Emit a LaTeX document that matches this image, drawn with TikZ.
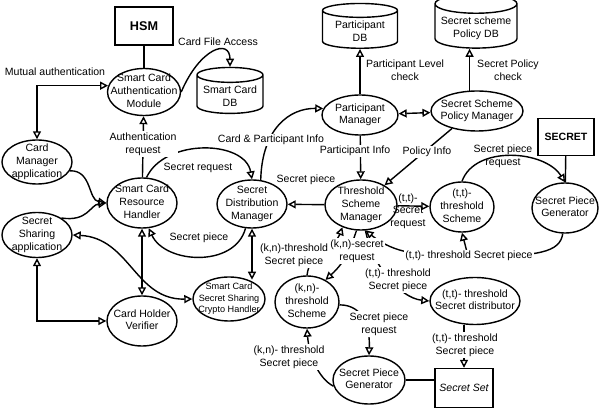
\documentclass[tikz,border=0pt]{standalone}
\usepackage{fontspec}
\setmainfont{Liberation Sans}
\usepackage{tikz}
\usetikzlibrary{arrows.meta,shapes.geometric}
\definecolor{ScanInk}{HTML}{000000}
\newcommand{\sclbl}{\fontsize{7.5}{9}\selectfont}
\newcommand{\incell}[1]{\makebox[0pt]{\raisebox{\dimexpr.5\depth-.5\height\relax}[0pt][0pt]{\begin{tabular}{@{}c@{}}#1\end{tabular}}}}
\tikzset{
  scproc/.style={ellipse, draw=ScanInk, line width=1pt, inner sep=0pt, font=\sclbl},
  scstore/.style={cylinder, shape border rotate=90, aspect=0.25, draw=ScanInk, line width=1pt, inner sep=2pt, align=center, font=\sclbl},
  scbox/.style={rectangle, draw=ScanInk, line width=1pt, inner sep=0pt},
  scnote/.style={font=\sclbl, align=center, inner sep=1pt},
  scflow/.style={-{Triangle[open,length=2mm,width=2mm]}, line width=1pt, draw=ScanInk},
  scboth/.style={{Triangle[open,length=2mm,width=2mm]}-{Triangle[open,length=2mm,width=2mm]}, line width=1pt, draw=ScanInk},
  scline/.style={line width=1pt, draw=ScanInk}
}

\begin{document}
\begin{tikzpicture}[x=0.025cm, y=-0.025cm]
  \useasboundingbox (0,0) rectangle (600,412);
  \node[scbox, minimum width=1.45cm, minimum height=0.95cm, font=\fontsize{9}{10}\selectfont\bfseries] (hsm) at (144,26) {HSM};
  \node[scproc, minimum width=1.825cm, minimum height=1.175cm] (scam) at (144,92) {\incell{Smart Card\\Authentication\\Module}};
  \node[scstore, minimum width=1.65cm, minimum height=1.05cm] (scdb) at (230,96) {Smart Card\\DB};
  \node[scproc, minimum width=1.75cm, minimum height=1.1cm] (cma) at (37,162) {\incell{Card\\Manager\\application}};
  \node[scproc, minimum width=1.75cm, minimum height=1.125cm] (ssa) at (37,235) {\incell{Secret\\Sharing\\application}};
  \node[scproc, minimum width=1.75cm, minimum height=1.25cm] (scrh) at (142,203) {\incell{Smart Card\\Resource\\Handler}};
  \node[scproc, minimum width=1.75cm, minimum height=1.25cm] (chv) at (142,321) {\incell{Card Holder\\Verifier}};
  \node[scproc, minimum width=1.75cm, minimum height=1.2cm] (sdm) at (252,204) {\incell{Secret\\Distribution\\Manager}};
  \node[scproc, minimum width=1.8cm, minimum height=1.1cm, font=\fontsize{6.5}{8}\selectfont] (scsc) at (229,299) {\incell{Smart Card\\Secret Sharing\\Crypto Handler}};
  \node[scstore, minimum width=1.875cm, minimum height=0.95cm] (pdb) at (360,31) {Participant\\DB};
  \node[scproc, minimum width=1.9cm, minimum height=1.0cm] (pm) at (360,115) {\incell{Participant\\Manager}};
  \node[scstore, minimum width=2.05cm, minimum height=1.125cm] (sspdb) at (476,28) {Secret scheme\\Policy DB};
  \node[scproc, minimum width=2.3cm, minimum height=1.0cm] (sspm) at (477,111) {\incell{Secret Scheme\\Policy Manager}};
  \node[scproc, minimum width=1.8cm, minimum height=1.25cm] (tsm) at (361,205) {\incell{Threshold\\Scheme\\Manager}};
  \node[scproc, minimum width=1.6cm, minimum height=1.25cm] (tts) at (462,207) {\incell{(t,t)-\\threshold\\Scheme}};
  \node[scbox, minimum width=1.4cm, minimum height=0.925cm, font=\fontsize{7.5}{9}\selectfont\bfseries] (secret) at (566,137) {SECRET};
  \node[scproc, minimum width=1.65cm, minimum height=1.25cm] (spgR) at (565,208) {\incell{Secret Piece\\Generator}};
  \node[scproc, minimum width=1.6cm, minimum height=1.3cm] (kns) at (307,302) {\incell{(k,n)-\\threshold\\Scheme}};
  \node[scproc, minimum width=1.8cm, minimum height=1.2cm] (spgB) at (369,380) {\incell{Secret Piece\\Generator}};
  \node[scproc, minimum width=2.25cm, minimum height=1.175cm] (ttsd) at (475,301) {\incell{(t,t)- threshold\\Secret distributor}};
  \node[scbox, minimum width=1.45cm, minimum height=0.975cm, font=\sclbl\itshape] (secset) at (464,388) {Secret Set};

  \draw[scline] (hsm) -- (scam);
  \draw[scflow] (scam.east) .. controls (200,48) and (230,38) .. (scdb.north);
  \draw[scboth] (cma.north) |- (scam.170);
  \draw[scflow] (cma.-15) .. controls (92,170) and (88,200) .. (scrh.west);
  \draw[scflow] (ssa.35) .. controls (88,222) and (90,205) .. (scrh.west);
  \draw[scboth] (ssa.east) .. controls (130,238) and (135,300) .. (scsc.west);
  \draw[scboth] (ssa.south) |- (chv.west);
  \draw[scflow] (scrh) -- (scam);
  \draw[scboth] (scrh) -- (chv);
  \draw[scflow] (scrh.80) .. controls (165,138) and (245,140) .. (sdm.north);
  \draw[scflow] (sdm.70) .. controls (262,128) and (290,108) .. (pm.170);
  \draw[scboth] (sdm.south) -- (sdm.south |- scsc.45);
  \draw[scflow] (sdm.255) .. controls (235,268) and (165,264) .. (scrh.285);
  \draw[scflow] (tsm) -- (sdm);
  \draw[scflow] (pm) -- (pdb);
  \draw[scflow] (sspm.110) -- (sspm.110 |- sspdb.south);
  \draw[scboth] (pm) -- (sspm);
  \draw[scflow] (pm) -- (tsm);
  \draw[scflow] (sspm.215) -- (tsm.40);
  \draw[scflow] (tsm) -- (tts);
  \draw[scflow] (tts.north) .. controls (475,145) and (545,150) .. (spgR.north);
  \draw[scline] (secret) -- (spgR);
  \coordinate (ttjoin) at (468,256);
  \draw[scflow] (spgR.265) .. controls (560,252) and (540,257) .. (ttjoin) .. controls (420,256) and (395,254) .. (tsm.-80);
  \draw[scflow] (ttjoin) -- (tts.south);
  \draw[scflow] (tsm.-80) .. controls (372,265) and (400,298) .. (ttsd.west);
  \draw[scflow] (tsm.-100) .. controls (350,250) and (345,262) .. (kns.50);
  \draw[scflow] (kns.north) .. controls (310,250) and (335,248) .. (tsm.-130);
  \draw[scflow] (spgB.190) .. controls (318,378) and (309,355) .. (kns.south);
  \draw[scflow] (kns.-5) .. controls (365,305) and (370,330) .. (spgB.north);
  \draw[scline] (spgB.east) -- (spgB.east -| secset.west);
  \draw[scflow] (secset.north |- ttsd.south) -- (secset.north);

  \node[scnote] (lblfile) at (218,42) {Card File Access};
  \node[scnote] (lblmutual) at (55,72) {Mutual authentication};
  \node[scnote, fill=white] (lblauth) at (143,144) {Authentication\\request};
  \node[scnote] (lblsreq) at (198,168) {Secret request};
  \node[scnote] (lblspl) at (199,238) {Secret piece};
  \node[scnote, fill=white] (lblcpi) at (271,140) {Card \& Participant Info};
  \node[scnote] (lblsp) at (306,180) {Secret piece};
  \node[scnote] (lblplc) at (405,70) {Participant Level\\check};
  \node[scnote] (lblspc) at (508,70) {Secret Policy\\check};
  \node[scnote, fill=white] (lblpinfo) at (355,151) {Participant Info};
  \node[scnote, fill=white] (lblpolinfo) at (427,152) {Policy Info};
  \node[scnote] (lblttreq) at (408,211) {(t,t)-\\Secret\\request};
  \node[scnote] (lblspreq) at (503,156) {Secret piece\\request};
  \node[scnote, fill=white] (lblttsp) at (469,256) {(t,t)- threshold Secret piece};
  \node[scnote, fill=white] (lblknsp) at (294,255) {(k,n)-threshold\\Secret piece};
  \node[scnote, fill=white] (lblknreq) at (357,251) {(k,n)-secret\\request};
  \node[scnote, fill=white] (lblttsp2) at (398,280) {(t,t)- threshold\\Secret piece};
  \node[scnote, fill=white] (lblknsp2) at (289,357) {(k,n)- threshold\\Secret piece};
  \node[scnote, fill=white] (lblspreq2) at (379,324) {Secret piece\\request};
  \node[scnote, fill=white] (lblttsp3) at (465,345) {(t,t)- threshold\\Secret piece};
\end{tikzpicture}
\end{document}
